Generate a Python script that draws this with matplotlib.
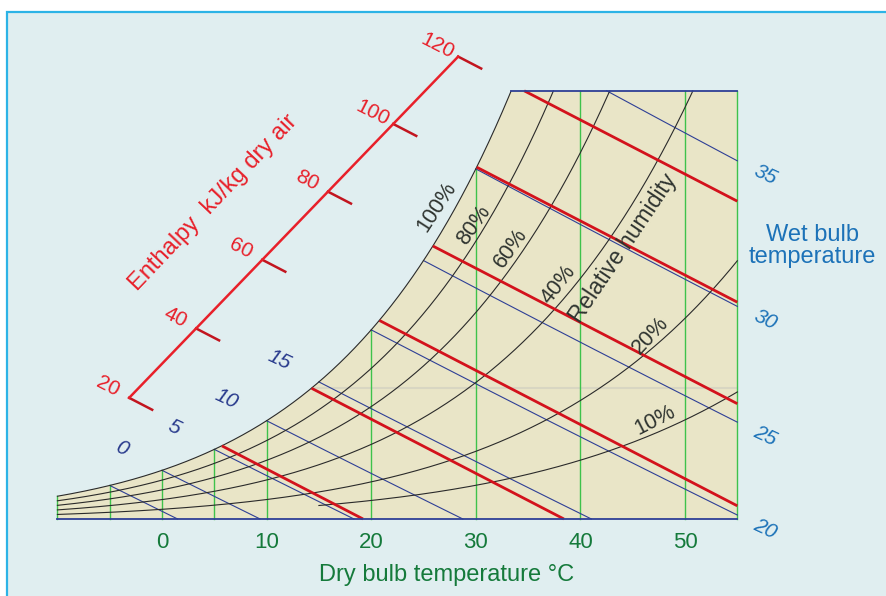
import numpy as np
import matplotlib
matplotlib.use("Agg")
import matplotlib.pyplot as plt
from matplotlib.patches import Rectangle

# chart values
t_min, t_max = -10, 55
w_top = 0.0332
dry_bulb_ticks = [0, 10, 20, 30, 40, 50]
dry_bulb_grid = [-10, -5, 0, 5, 10, 20, 30, 40, 50, 55]
rh_levels = [1.0, 0.8, 0.6, 0.4, 0.2, 0.1]
rh_start = [-10, -10, -10, -10, -10, 15]
rh_labels = ["100%", "80%", "60%", "40%", "20%", "10%"]
wet_bulb_temps = [-5, 0, 5, 10, 15, 20, 25, 30, 35]
wb_labels_left = [0, 5, 10, 15]
wb_labels_right = [20, 25, 30, 35]
enthalpy_values = [20, 40, 60, 80, 100, 120]
enthalpy_slope = 0.00042   # drawn slope of the enthalpy lines (kg/kg per degC)

P = 101.325


def p_ws(t):
    return 0.61094 * np.exp(17.625 * t / (t + 243.04))


def w_rh(t, rh):
    p = rh * p_ws(t)
    return 0.622 * p / (P - p)


def w_wetbulb(t, twb):
    ws = w_rh(twb, 1.0)
    return ((2501 - 2.326 * twb) * ws - 1.006 * (t - twb)) / (2501 + 1.86 * t - 4.186 * twb)


def h_sat(t):
    w = w_rh(t, 1.0)
    return 1.006 * t + w * (2501 + 1.86 * t)


bg = "#e0eef0"
beige = "#e9e5c7"
green = "#3ec24b"
navy = "#2e3f96"
red = "#d3121c"
font = "Liberation Sans"

fig = plt.figure(figsize=(8.86, 5.96), dpi=100)
ax = fig.add_axes([0, 0, 1, 1])
ax.set_xlim(-15.488, 69.216)
ax.set_ylim(-0.005969, 0.040233)
ax.axis("off")

ax.add_patch(Rectangle((7 / 886, -0.1), 1.2, 1 - 12 / 596 + 0.1, transform=ax.transAxes,
                       facecolor=bg, edgecolor="#2cb3e6", linewidth=1.6, zorder=0))

grid = np.linspace(t_min, t_max, 3000)
t_sat_top = np.interp(w_top, w_rh(grid, 1.0), grid)

# chart area
tf = np.linspace(t_min, t_sat_top, 400)
xs = np.concatenate([[t_min], tf, [t_max, t_max]])
ys = np.concatenate([[0], w_rh(tf, 1.0), [w_top, 0]])
ax.fill(xs, ys, color=beige, zorder=1, linewidth=0)

# faint line seen in the chart
t_faint = np.interp(0.01016, w_rh(grid, 1.0), grid)
ax.plot([t_faint, t_max], [0.01016, 0.01016], color="#d8d6c2", lw=1.5, zorder=1.5)

# dry bulb verticals
for t in dry_bulb_grid:
    ax.plot([t, t], [0, min(w_rh(t, 1.0), w_top)], color=green, lw=1.0, zorder=2)

# wet bulb lines
for twb in wet_bulb_temps:
    t = np.linspace(twb, t_max, 1500)
    w = w_wetbulb(t, twb)
    m = (w >= 0) & (w <= w_top)
    ax.plot(t[m], w[m], color=navy, lw=0.8, zorder=3)

# relative humidity curves
for rh, t0 in zip(rh_levels, rh_start):
    t = np.linspace(t0, t_max, 3000)
    w = w_rh(t, rh)
    m = w <= w_top
    ax.plot(t[m], w[m], color="#2a2a2a", lw=0.8, zorder=4)

# enthalpy lines and the enthalpy scale
scale_p = (-3.25, 0.0093)
scale_m = 0.000841
ticks = []
for h in enthalpy_values:
    t0 = np.interp(h, h_sat(grid), grid)
    w0 = w_rh(t0, 1.0)
    t = np.linspace(t0 - 40, t_max, 3000)
    w = w0 - enthalpy_slope * (t - t0)
    m = (w >= 0) & (w <= min(w0, w_top)) & (t <= t_max)
    ax.plot(t[m], w[m], color=red, lw=2.0, zorder=5, solid_capstyle="butt")
    # where the extended line meets the scale
    ti = (w0 + enthalpy_slope * t0 - scale_p[1] + scale_m * scale_p[0]) / (scale_m + enthalpy_slope)
    wi = w0 - enthalpy_slope * (ti - t0)
    ticks.append((ti, wi))
    ax.plot([ti, ti + 2.2], [wi, wi - enthalpy_slope * 2.2], color="#c2151f", lw=1.8, zorder=5)
    ax.annotate(str(h), (ti, wi), xytext=(-21, 11), textcoords="offset pixels",
                ha="center", va="center", rotation=-27, color="#e8202a",
                fontsize=15, family=font, zorder=6)
ax.plot([ticks[0][0], ticks[-1][0]], [ticks[0][1], ticks[-1][1]], color="#e8202a", lw=1.8, zorder=5)

ax.text(4.88, 0.0245, "Enthalpy  kJ/kg dry air", rotation=46.5, color="#e8202a",
        fontsize=17, family=font, ha="center", va="center", rotation_mode="anchor")

# top and bottom borders
ax.plot([t_sat_top, t_max], [w_top, w_top], color=navy, lw=1.3, zorder=5)
ax.plot([t_min, t_max], [0, 0], color=navy, lw=1.3, zorder=5)

# dry bulb labels
for t in dry_bulb_ticks:
    ax.text(t, -0.00186, str(t), ha="center", va="center", color="#157a3b",
            fontsize=16, family=font)
ax.text(27.25, -0.00434, "Dry bulb temperature °C", ha="center", va="center",
        color="#157a3b", fontsize=17, family=font)

# wet bulb labels
for twb in wb_labels_left:
    ax.annotate(str(twb), (twb, w_rh(twb, 1.0)), xytext=(-40, 22), textcoords="offset pixels",
                ha="center", va="center", rotation=-25, style="italic",
                color="#27398c", fontsize=15, family=font)
for twb in wb_labels_right:
    ax.annotate(str(twb), (t_max, w_wetbulb(t_max, twb)), xytext=(28, -14),
                textcoords="offset pixels", ha="center", va="center", rotation=-25,
                style="italic", color="#1c72b8", fontsize=15, family=font)
ax.text(62.2, (519 - 241) / 12900, "Wet bulb", ha="center", va="baseline",
        color="#1c72b8", fontsize=17, family=font)
ax.text(62.2, (519 - 263) / 12900, "temperature", ha="center", va="baseline",
        color="#1c72b8", fontsize=17, family=font)

# relative humidity labels
rh_pos = [(26.3, 0.02419, 57), (29.8, 0.02279, 55), (33.3, 0.0210, 55),
          (37.9, 0.01814, 52), (46.75, 0.01426, 47), (47.1, 0.00767, 27)]
for lab, (x, y, r) in zip(rh_labels, rh_pos):
    ax.text(x, y, lab, rotation=r, ha="center", va="center", rotation_mode="anchor",
            color="#2f3430", fontsize=15.5, family=font, zorder=7)
ax.text(44.1, 0.0210, "Relative humidity", rotation=56, ha="center", va="center",
        rotation_mode="anchor", color="#2f3430", fontsize=16.5, family=font, zorder=7)

fig.savefig("out.png", dpi=100, facecolor="white")
